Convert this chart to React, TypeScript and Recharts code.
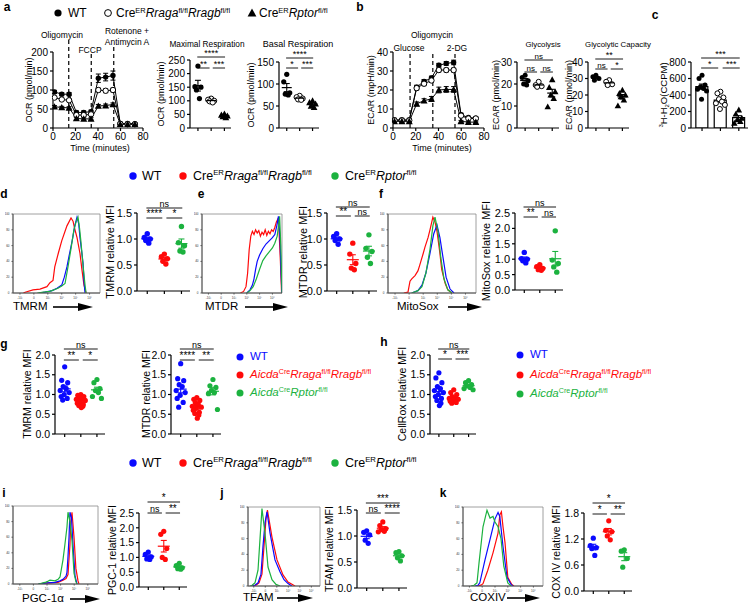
import React from 'react';
import {
  ComposedChart, LineChart, Line, Scatter, Bar, XAxis, YAxis,
  ReferenceLine, ReferenceArea, ErrorBar,
} from 'recharts';

const FONT = 'Arial, "Liberation Sans", Helvetica, sans-serif';
const BLUE = '#0a0aff';
const RED = '#ff0a0a';
const GREEN = '#1cb23f';
const BLACK = '#000000';

// ---------- a / b : Seahorse time courses ----------
const SEAHORSE_TIME = [1.3, 7.8, 14.3, 20.8, 27.3, 33.8, 40.3, 46.8, 53.3, 59.8, 66.3, 72.8];
const TIME_TICKS = [0, 20, 40, 60, 80];
const OCR_WT = [95, 89, 89, 41, 41, 43, 131, 134, 138, 12, 12, 11];
const OCR_WT_SEM = [4, 4, 4, 4, 4, 4, 11, 10, 12, 3, 3, 3];
const OCR_RR = [80, 75, 73, 34, 34, 36, 100, 98, 100, 11, 10, 10];
const OCR_RR_SEM = [3, 3, 3, 3, 3, 3, 5, 5, 5, 2, 2, 2];
const OCR_RP = [56, 54, 53, 25, 24, 24, 58, 59, 62, 10, 10, 10];
const OCR_RP_SEM = [3, 3, 3, 3, 3, 3, 4, 4, 4, 2, 2, 2];
const OCR_TICKS = [0, 50, 100, 150, 200];
const OCR_INJECTIONS = [14, 34, 54];

const ECAR_WT = [4.3, 4.3, 4.3, 21.5, 24.5, 26.3, 33, 34, 34.5, 7, 5.5, 5.2];
const ECAR_WT_SEM = [0.8, 0.8, 0.8, 1, 1, 1, 1, 1, 1.2, 0.8, 0.6, 0.6];
const ECAR_RR = [4, 4, 4, 21, 23.3, 25, 30.5, 30.5, 30.5, 6.5, 5, 5];
const ECAR_RR_SEM = [0.6, 0.6, 0.6, 1, 1, 1, 1, 1, 1, 0.6, 0.5, 0.5];
const ECAR_RP = [3.5, 3.5, 3.5, 12.7, 14.4, 15.3, 20, 20.3, 20.3, 3.5, 3.1, 3.1];
const ECAR_RP_SEM = [0.5, 0.5, 0.5, 1, 1, 1.3, 1.5, 1.5, 1.5, 0.5, 0.5, 0.5];
const ECAR_TICKS = [0, 10, 20, 30, 40];
const ECAR_INJECTIONS = [15, 35, 54.5];

// ---------- a / b / c dot plots ----------
const MAXRESP_WT = [228, 152, 150, 140, 108];
const MAXRESP_RR = [108, 104, 100, 98, 94];
const MAXRESP_RP = [52, 48, 45, 42, 38];
const BASAL_WT = [122, 105, 80, 77, 75];
const BASAL_RR = [73, 70, 67, 65, 64];
const BASAL_RP = [62, 58, 55, 50, 47];
const GLYCO_WT = [24, 23, 21.5, 20, 19.5];
const GLYCO_RR = [21, 19.5, 19, 18.7];
const GLYCO_RP = [22, 18.5, 16.5, 15, 13.5, 9.7];
const GCAP_WT = [32, 31, 30, 29];
const GCAP_RR = [29, 28, 26.5, 26];
const GCAP_RP = [23, 21, 20, 19, 17, 13.5];
const H2O_WT = [640, 600, 520, 500, 480, 470, 450, 350];
const H2O_RR = [440, 420, 370, 350, 320, 300, 280, 230];
const H2O_RP = [220, 170, 120, 100, 80, 60];

// ---------- d / e / f ----------
const TMRM_WT = [1.1, 1.03, 1.0, 0.97, 0.92];
const TMRM_RR = [0.71, 0.66, 0.62, 0.57, 0.52];
const TMRM_RP = [1.24, 0.93, 0.87, 0.77, 0.75];
const MTDR_WT = [1.1, 1.05, 1.0, 0.97, 0.9];
const MTDR_RR = [0.92, 0.71, 0.53, 0.44, 0.41];
const MTDR_RP = [1.08, 0.82, 0.76, 0.65, 0.53];
const MITOSOX_WT = [1.22, 1.02, 1.0, 0.95, 0.88];
const MITOSOX_RR = [0.82, 0.76, 0.7, 0.66, 0.64];
const MITOSOX_RP = [1.92, 0.97, 0.86, 0.75, 0.58];

// ---------- g / h ----------
const G_TMRM_WT = [1.7, 1.36, 1.3, 1.2, 1.15, 1.1, 1.05, 1.0, 0.95, 0.9, 0.86];
const G_TMRM_RR = [1.0, 0.98, 0.95, 0.92, 0.9, 0.88, 0.85, 0.82, 0.78, 0.75, 0.72, 0.7, 0.67];
const G_TMRM_RP = [1.38, 1.3, 1.15, 1.1, 1.05, 0.95, 0.9];
const G_MTDR_WT = [1.78, 1.4, 1.35, 1.25, 1.2, 1.1, 1.05, 0.98, 0.9, 0.8, 0.68];
const G_MTDR_RR = [0.92, 0.88, 0.85, 0.8, 0.75, 0.7, 0.68, 0.65, 0.6, 0.55, 0.52, 0.48, 0.4];
const G_MTDR_RP = [1.38, 1.22, 1.18, 1.1, 1.05, 1.02, 0.62];
const CELLROX_WT = [1.55, 1.42, 1.3, 1.2, 1.15, 1.1, 1.05, 1.0, 0.95, 0.9, 0.85, 0.78, 0.72];
const CELLROX_RR = [1.12, 1.05, 1.0, 0.95, 0.92, 0.9, 0.88, 0.85, 0.83, 0.8, 0.78];
const CELLROX_RP = [1.35, 1.3, 1.25, 1.22, 1.18, 1.15, 1.12];

// ---------- i / j / k ----------
const PGC_WT = [1.18, 1.1, 1.02, 0.95, 0.93];
const PGC_RR = [1.88, 1.78, 1.3, 1.0, 0.93];
const PGC_RP = [0.8, 0.72, 0.65, 0.62, 0.6];
const TFAM_WT = [1.1, 1.07, 1.02, 0.92, 0.86];
const TFAM_RR = [1.27, 1.2, 1.14, 1.12, 1.09, 1.08];
const TFAM_RP = [0.7, 0.68, 0.62, 0.58, 0.52];
const COX_WT = [1.22, 1.05, 1.0, 0.98, 0.82];
const COX_RR = [1.62, 1.4, 1.37, 1.27, 1.18];
const COX_RP = [0.95, 0.92, 0.75, 0.55];

// ---------- significance labels (overall, left pair, right pair) ----------
const SIG_MAXRESP = ['****', '**', '***'];
const SIG_BASAL = ['****', '*', '***'];
const SIG_GLYCO = ['ns', 'ns', 'ns'];
const SIG_GCAP = ['**', 'ns', '*'];
const SIG_H2O = ['***', '*', '***'];
const SIG_TMRM = ['ns', '****', '*'];
const SIG_MTDR = ['ns', '**', 'ns'];
const SIG_MITOSOX = ['ns', '**', 'ns'];
const SIG_G_TMRM = ['ns', '**', '*'];
const SIG_G_MTDR = ['ns', '****', '**'];
const SIG_CELLROX = ['ns', '*', '***'];
const SIG_PGC = ['*', 'ns', '**'];
const SIG_TFAM = ['***', 'ns', '****'];
const SIG_COX = ['*', '*', '**'];

// ---------- flow histograms: [channel %, % of max] ----------
const H_TMRM_RED = [[12, 0], [14, 1], [23, 4], [31, 5], [39, 8], [42.5, 13], [46, 16], [48, 33], [52, 50], [56, 66], [62, 85], [66.7, 95], [69, 91], [71, 81], [73.6, 70], [77, 50], [79.3, 29], [81.6, 10], [84, 0]];
const H_TMRM_BLUE = [[30, 0], [37, 1], [45, 3], [50.6, 6], [56, 10], [59, 20], [62, 33], [65, 50], [68, 66], [71, 85], [73.6, 96], [75.5, 88], [77, 70], [79, 52], [80.5, 38], [81.6, 15], [82.8, 0]];
const H_TMRM_GREEN = [[28, 0], [35, 1], [42.5, 2], [51.7, 6], [56, 9], [59.8, 12], [63.2, 33], [66.5, 55], [70, 80], [72.5, 90], [74.7, 96], [76.5, 82], [78, 66], [80.5, 35], [82.8, 10], [84, 0]];
const H_MTDR_RED = [[48, 0], [52, 2], [55, 8], [57, 25], [59, 55], [61, 72], [63, 78], [65, 74], [67, 80], [69, 76], [71, 79], [73, 72], [75, 77], [77, 74], [79, 80], [81, 73], [83, 78], [85, 75], [87, 80], [89, 78], [91, 83], [93, 90], [94.5, 93], [96, 85], [98, 40], [99.5, 0]];
const H_MTDR_BLUE = [[56, 0], [60, 4], [63, 10], [65, 18], [67, 30], [69, 40], [72, 48], [76, 56], [80, 62], [84, 66], [88, 70], [91, 74], [93.5, 85], [95.5, 97], [97.5, 70], [99, 20], [100, 0]];
const H_MTDR_GREEN = [[56, 0], [60, 3], [64, 8], [68, 18], [72, 30], [76, 41], [80, 47], [84, 52], [88, 57], [91, 63], [94, 72], [96, 88], [97, 97], [98.5, 60], [100, 0]];
const H_MITO_RED = [[18, 0], [22.7, 1], [25, 15], [27, 18], [30.7, 22], [34, 28], [36, 35], [40, 50], [42, 58], [45.5, 70], [47.7, 80], [51, 96], [53.4, 90], [55.7, 78], [59, 50], [61, 30], [65, 12], [68, 4], [72.7, 0]];
const H_MITO_BLUE = [[27, 0], [34, 3], [38.6, 10], [43, 25], [47.7, 50], [52, 75], [55.7, 86], [59, 70], [62.5, 45], [66, 20], [70.5, 5], [75, 0]];
const H_MITO_GREEN = [[27, 0], [34, 3], [38.6, 8], [43, 25], [47.7, 55], [51, 85], [53.4, 96], [56.8, 78], [60, 45], [63.6, 18], [68, 4], [72.7, 0]];
const H_PGC_GREEN = [[30, 0], [37.6, 2], [40, 3], [43.5, 5], [49.4, 4], [53, 6], [55.3, 9], [58.8, 31], [61, 50], [63.5, 73], [64.7, 92], [67, 80], [69.4, 56], [71.8, 14], [74, 3], [75.3, 0]];
const H_PGC_BLUE = [[30, 0], [37.6, 1], [49.4, 2], [55.3, 4], [58.8, 6], [62.4, 10], [63.5, 15], [64.7, 35], [65.9, 60], [67, 92], [68.8, 85], [70.6, 50], [73, 10], [75.3, 0]];
const H_PGC_RED = [[30, 0], [37.6, 1], [53, 2], [58.8, 5], [62.4, 7], [64.7, 12], [67, 50], [68, 80], [69.4, 92], [71.8, 60], [74, 20], [76.5, 4], [77.6, 0]];
const H_TFAM_GREEN = [[3, 0], [5.6, 1], [9.7, 4], [13.9, 20], [16.7, 60], [19.4, 98], [23.6, 67], [27.8, 24], [33.3, 8], [38.9, 2], [44.4, 0]];
const H_TFAM_BLUE = [[5, 0], [9.7, 1], [13.9, 4], [18, 15], [20.8, 50], [23.6, 80], [26.4, 94], [30.6, 67], [37.5, 33], [44.4, 18], [50, 8], [55.6, 3], [61, 0]];
const H_TFAM_RED = [[5, 0], [11, 1], [15.3, 4], [19.4, 15], [22.2, 50], [25, 85], [27, 96], [33.3, 62], [40.3, 33], [48.6, 14], [55.6, 5], [65.3, 0]];
const H_COX_GREEN = [[10, 0], [13.8, 1], [17.5, 4], [20, 29], [25, 75], [30, 96], [33.8, 86], [37.5, 88], [40, 81], [43.8, 75], [47.5, 60], [51, 25], [56, 4], [60, 0]];
const H_COX_BLUE = [[15, 0], [18.8, 1], [21, 4], [27.5, 33], [33.8, 59], [40, 85], [43.8, 93], [46, 88], [50, 50], [55, 11], [60, 2], [62.5, 0]];
const H_COX_RED = [[18, 0], [22.5, 1], [25, 3], [31, 20], [37.5, 42], [43.8, 67], [46, 90], [48, 94], [50, 75], [52.5, 55], [56, 11], [61, 2], [63.8, 0]];
const HIST_X_TICKS = [8, 24, 40, 56, 72, 88];
const HIST_X_LABELS = ['-10³', '0', '10³', '10⁴', '10⁵', '10⁶'];
const HIST_Y_TICKS = [0, 20, 40, 60, 80, 100];

// ---------- helpers ----------
const mean = (a: number[]) => a.reduce((s, v) => s + v, 0) / a.length;
const sem = (a: number[]) => {
  const m = mean(a);
  const sd = Math.sqrt(a.reduce((s, v) => s + (v - m) * (v - m), 0) / (a.length - 1));
  return sd / Math.sqrt(a.length);
};
const JIT = [0, -3, 3, -1.5, 1.5, -4.5, 4.5, -0.5, -3.5, 2.5, -2, 2, 0.5];

const Marker = ({ cx, cy, marker, color, r }: any) => {
  if (cx == null || cy == null) return null;
  if (marker === 'open') return <circle cx={cx} cy={cy} r={r} fill="#fff" stroke={color} strokeWidth={1} />;
  if (marker === 'tri') {
    const s = r * 1.3;
    return <polygon points={`${cx},${cy - s} ${cx - s},${cy + s * 0.8} ${cx + s},${cy + s * 0.8}`} fill={color} />;
  }
  return <circle cx={cx} cy={cy} r={r} fill={color} />;
};

const Txt = ({ x, y, size = 9, anchor = 'start', bold = false, color = '#000', rot = false, children }: any) => (
  <div
    style={{
      position: 'absolute', left: x, top: y, fontSize: size, lineHeight: 1, whiteSpace: 'nowrap',
      fontWeight: bold ? 700 : 400, color, fontFamily: FONT,
      transform: rot
        ? 'translate(-50%, -50%) rotate(-90deg)'
        : `translate(${anchor === 'middle' ? '-50%' : anchor === 'end' ? '-100%' : '0'}, -50%)`,
    }}
  >
    {children}
  </div>
);

const Sup = ({ children }: any) => (
  <span style={{ fontSize: '0.62em', position: 'relative', top: '-0.6em' }}>{children}</span>
);
const Sub = ({ children }: any) => (
  <span style={{ fontSize: '0.62em', position: 'relative', top: '0.3em' }}>{children}</span>
);

const LegendMark = ({ x, y, marker, color, r }: any) => (
  <svg style={{ position: 'absolute', left: x - 8, top: y - 8 }} width={16} height={16}>
    <Marker cx={8} cy={8} marker={marker} color={color} r={r} />
  </svg>
);

const Arrow = ({ x1, x2, y }: any) => {
  const L = x2 - x1;
  return (
    <svg style={{ position: 'absolute', left: x1, top: y - 5 }} width={L} height={10}>
      <line x1={0} y1={5} x2={L - 12} y2={5} stroke="#000" strokeWidth={1.6} />
      <polygon points={`${L - 15},1 ${L},5 ${L - 15},9`} fill="#000" />
    </svg>
  );
};

// ---------- time course ----------
const TimeCourse = ({ left, top, w, h, yMax, yTicks, series, injections, dashOff }: any) => {
  const YW = 28, MT = 16, MR = 8, XH = 17;
  const rows = SEAHORSE_TIME.map((t, i) => {
    const o: any = { t };
    series.forEach((s: any, si: number) => { o['v' + si] = s.values[i]; o['e' + si] = s.err[i]; });
    return o;
  });
  return (
    <div style={{ position: 'absolute', left: left - YW, top: top - MT }}>
      <LineChart width={YW + w + MR} height={MT + h + XH} data={rows} margin={{ top: MT, right: MR, left: 0, bottom: 0 }}>
        <XAxis type="number" dataKey="t" domain={[0, 80]} ticks={TIME_TICKS} interval={0} height={XH} tickSize={3}
          stroke="#000" strokeWidth={1.2} tick={{ fontSize: 10, fill: '#000', fontFamily: FONT }} allowDataOverflow />
        <YAxis type="number" domain={[0, yMax]} ticks={yTicks} interval={0} width={YW} tickSize={3}
          stroke="#000" strokeWidth={1.2} tick={{ fontSize: 10, fill: '#000', fontFamily: FONT }} allowDataOverflow />
        {injections.map((x: number, i: number) => (
          <ReferenceLine key={'inj' + i} ifOverflow="visible" stroke="#000" strokeWidth={1.2} strokeDasharray="4 3"
            segment={[{ x, y: 0 }, { x, y: yMax - (dashOff[i] / h) * yMax }]} />
        ))}
        {series.map((s: any, si: number) => (
          <Line key={'l' + si} dataKey={'v' + si} stroke="#000" strokeWidth={1} isAnimationActive={false}
            dot={(p: any) => <Marker key={'d' + si + '-' + p.index} cx={p.cx} cy={p.cy} marker={s.marker} color="#000" r={2.7} />}>
            <ErrorBar dataKey={'e' + si} width={2.5} stroke="#000" strokeWidth={1} direction="y" />
          </Line>
        ))}
      </LineChart>
    </div>
  );
};

// ---------- dot plot ----------
const SPANS = [[0.95, 3.05], [0.95, 1.88], [2.12, 3.05]];
const DotPlot = ({ left, top, w, h, yMax, yTicks, dec, groups, sig, sigOff, bars = false, r = 2.6, meanHW = 6, fs = 10.5, sigFs = [9, 10] }: any) => {
  const YW = 30, MT = 26, MR = 2, XH = 6;
  const stats = groups.map((g: any, i: number) => ({ x: i + 1, y: mean(g.values), sem: sem(g.values) }));
  const toY = (off: number) => yMax - (off / h) * yMax;
  return (
    <div style={{ position: 'absolute', left: left - YW, top: top - MT }}>
      <ComposedChart width={YW + w + MR} height={MT + h + XH} data={bars ? stats : undefined}
        margin={{ top: MT, right: MR, left: 0, bottom: 0 }}>
        <XAxis type="number" dataKey="x" domain={[0.4, 3.5]} ticks={[1, 2, 3]} tickFormatter={() => ''} interval={0}
          height={XH} tickSize={3} stroke="#000" strokeWidth={1.2} allowDataOverflow />
        <YAxis type="number" dataKey="y" domain={[0, yMax]} ticks={yTicks} interval={0} width={YW} tickSize={3}
          tickFormatter={(v: number) => v.toFixed(dec)} stroke="#000" strokeWidth={1.2}
          tick={{ fontSize: fs, fill: '#000', fontFamily: FONT }} allowDataOverflow />
        {bars && (
          <Bar dataKey="y" barSize={12} fill="#fff" stroke="#000" strokeWidth={1.2} isAnimationActive={false}>
            <ErrorBar dataKey="sem" width={3} stroke="#000" strokeWidth={1} direction="y" />
          </Bar>
        )}
        {groups.map((g: any, gi: number) => (
          <Scatter key={'p' + gi} isAnimationActive={false}
            data={g.values.map((v: number, k: number) => ({ x: gi + 1, y: v, k }))}
            shape={(p: any) => (
              <Marker cx={p.cx + JIT[p.payload.k % JIT.length]} cy={p.cy} marker={g.marker} color={g.color} r={r} />
            )} />
        ))}
        {!bars && groups.map((g: any, gi: number) => (
          <Scatter key={'m' + gi} isAnimationActive={false} data={[stats[gi]]}
            shape={(p: any) => (
              <line x1={p.cx - meanHW} x2={p.cx + meanHW} y1={p.cy} y2={p.cy} stroke={g.color} strokeWidth={1.2} />
            )}>
            <ErrorBar dataKey="sem" width={3} stroke={g.color} strokeWidth={1.1} direction="y" />
          </Scatter>
        ))}
        {sig.map((s: string, i: number) => {
          const yv = toY(i === 0 ? sigOff[0] : sigOff[1]);
          const [a, b] = SPANS[i];
          return (
            <ReferenceLine key={'s' + i} ifOverflow="visible" stroke="#000" strokeWidth={0.9}
              segment={[{ x: a, y: yv }, { x: b, y: yv }]}
              label={{ value: s, position: 'top', offset: 1, fontSize: s === 'ns' ? sigFs[0] : sigFs[1], fill: '#000', fontFamily: FONT }} />
          );
        })}
      </ComposedChart>
    </div>
  );
};

// ---------- histogram ----------
const Histo = ({ left, top, w, h, curves }: any) => {
  const YW = 8, MT = 2, MR = 2, XH = 7;
  return (
    <div style={{ position: 'absolute', left: left - YW, top: top - MT }}>
      <LineChart width={YW + w + MR} height={MT + h + XH} margin={{ top: MT, right: MR, left: 0, bottom: 0 }}>
        <XAxis type="number" dataKey="x" domain={[0, 100]} ticks={HIST_X_TICKS} interval={0}
          tickFormatter={(v: number, i: number) => HIST_X_LABELS[i]} height={XH} tickSize={1.5} stroke="#555"
          tick={{ fontSize: 3, fill: '#333' }} allowDataOverflow />
        <YAxis type="number" domain={[0, 100]} ticks={HIST_Y_TICKS} interval={0} width={YW} tickSize={1.5} stroke="#555"
          tick={{ fontSize: 3, fill: '#333' }} allowDataOverflow />
        <ReferenceArea x1={0} x2={100} y1={0} y2={100} fill="none" stroke="#888" strokeWidth={0.8} ifOverflow="visible" />
        {curves.map((c: any, i: number) => (
          <Line key={'h' + i} data={c.pts.map(([x, y]: number[]) => ({ x, y }))} dataKey="y" stroke={c.color}
            strokeWidth={1.2} dot={false} isAnimationActive={false} />
        ))}
      </LineChart>
    </div>
  );
};

const blk = (a: number[], b: number[], c: number[]) => [
  { values: a, color: BLACK, marker: 'dot' },
  { values: b, color: BLACK, marker: 'open' },
  { values: c, color: BLACK, marker: 'tri' },
];
const col = (a: number[], b: number[], c: number[]) => [
  { values: a, color: BLUE, marker: 'dot' },
  { values: b, color: RED, marker: 'dot' },
  { values: c, color: GREEN, marker: 'dot' },
];
const hc = (r: number[][], b: number[][], g: number[][]) => [
  { pts: r, color: RED }, { pts: b, color: BLUE }, { pts: g, color: GREEN },
];

const CreRr = () => (<>Cre<Sup>ER</Sup><i>Rraga</i><Sup>fl/fl</Sup><i>Rragb</i><Sup>fl/fl</Sup></>);
const CreRp = () => (<>Cre<Sup>ER</Sup><i>Rptor</i><Sup>fl/fl</Sup></>);
const AicRr = () => (<><i>Aicda</i><Sup>Cre</Sup><i>Rraga</i><Sup>fl/fl</Sup><i>Rragb</i><Sup>fl/fl</Sup></>);
const AicRp = () => (<><i>Aicda</i><Sup>Cre</Sup><i>Rptor</i><Sup>fl/fl</Sup></>);

const ColorLegend = ({ y }: any) => (
  <>
    <LegendMark x={133} y={y} marker="dot" color={BLUE} r={3.7} />
    <Txt x={142} y={y} size={12.5}>WT</Txt>
    <LegendMark x={183} y={y} marker="dot" color={RED} r={3.7} />
    <Txt x={193} y={y} size={12.5}><CreRr /></Txt>
    <LegendMark x={335} y={y} marker="dot" color={GREEN} r={3.7} />
    <Txt x={345} y={y} size={12.5}><CreRp /></Txt>
  </>
);

const AicdaLegend = ({ x, ys }: any) => (
  <>
    <LegendMark x={x} y={ys[0]} marker="dot" color={BLUE} r={3.5} />
    <Txt x={x + 10} y={ys[0]} size={11.5} color={BLUE}>WT</Txt>
    <LegendMark x={x} y={ys[1]} marker="dot" color={RED} r={3.5} />
    <Txt x={x + 10} y={ys[1]} size={11.5} color={RED}><AicRr /></Txt>
    <LegendMark x={x} y={ys[2]} marker="dot" color={GREEN} r={3.5} />
    <Txt x={x + 10} y={ys[2]} size={11.5} color={GREEN}><AicRp /></Txt>
  </>
);

export default function App() {
  const ocrSeries = [
    { values: OCR_WT, err: OCR_WT_SEM, marker: 'dot' },
    { values: OCR_RR, err: OCR_RR_SEM, marker: 'open' },
    { values: OCR_RP, err: OCR_RP_SEM, marker: 'tri' },
  ];
  const ecarSeries = [
    { values: ECAR_WT, err: ECAR_WT_SEM, marker: 'dot' },
    { values: ECAR_RR, err: ECAR_RR_SEM, marker: 'open' },
    { values: ECAR_RP, err: ECAR_RP_SEM, marker: 'tri' },
  ];
  const mfi15 = [0, 0.5, 1.0, 1.5];
  const mfi20 = [0, 0.5, 1.0, 1.5, 2.0];
  const mfi25 = [0, 0.5, 1.0, 1.5, 2.0, 2.5];
  return (
    <div style={{ position: 'absolute', left: 0, top: 0, width: 750, height: 605, background: '#fff', fontFamily: FONT, overflow: 'hidden' }}>
      {/* ---------- row 1 ---------- */}
      <Txt x={7} y={7} size={12} bold anchor="middle">a</Txt>
      <Txt x={360} y={7} size={12} bold anchor="middle">b</Txt>
      <Txt x={655} y={15} size={12} bold anchor="middle">c</Txt>

      <LegendMark x={58} y={13} marker="dot" color={BLACK} r={3.6} />
      <Txt x={68} y={13} size={12}>WT</Txt>
      <LegendMark x={108} y={13} marker="open" color={BLACK} r={3.4} />
      <Txt x={116} y={13} size={12}><CreRr /></Txt>
      <LegendMark x={252} y={13} marker="tri" color={BLACK} r={3.4} />
      <Txt x={259} y={13} size={12}><CreRp /></Txt>

      <TimeCourse left={53} top={52} w={90} h={76} yMax={200} yTicks={OCR_TICKS} series={ocrSeries}
        injections={OCR_INJECTIONS} dashOff={[-12, 1, -5]} />
      <Txt x={29} y={90} size={9} rot>OCR (pmol/min)</Txt>
      <Txt x={100} y={148} size={9} anchor="middle">Time (minutes)</Txt>
      <Txt x={62} y={35} size={8.5} anchor="middle">Oligomycin</Txt>
      <Txt x={90} y={50} size={8.5} anchor="middle">FCCP</Txt>
      <Txt x={127} y={31} size={8.5} anchor="middle">Rotenone +</Txt>
      <Txt x={127} y={42} size={8.5} anchor="middle">Antimycin A</Txt>

      <DotPlot left={190} top={60} w={41} h={68} yMax={250} yTicks={[0, 50, 100, 150, 200, 250]} dec={0}
        groups={blk(MAXRESP_WT, MAXRESP_RR, MAXRESP_RP)} sig={SIG_MAXRESP} sigOff={[-3, 8]} r={2.6} meanHW={5}
        fs={10} sigFs={[8, 9]} />
      <Txt x={207} y={44} size={8.3} anchor="middle">Maximal Respiration</Txt>
      <Txt x={161} y={94} size={9} rot>OCR (pmol/min)</Txt>

      <DotPlot left={279} top={62} w={40} h={66} yMax={150} yTicks={[0, 50, 100, 150]} dec={0}
        groups={blk(BASAL_WT, BASAL_RR, BASAL_RP)} sig={SIG_BASAL} sigOff={[-4, 6]} r={2.6} meanHW={5}
        fs={10} sigFs={[8, 9]} />
      <Txt x={298} y={44} size={9} anchor="middle">Basal Respiration</Txt>
      <Txt x={251} y={95} size={9} rot>OCR (pmol/min)</Txt>

      <TimeCourse left={393} top={52} w={91} h={76} yMax={40} yTicks={ECAR_TICKS} series={ecarSeries}
        injections={ECAR_INJECTIONS} dashOff={[0, 0, 0]} />
      <Txt x={371} y={90} size={9} rot>ECAR (mpH/min)</Txt>
      <Txt x={442} y={148} size={9} anchor="middle">Time (minutes)</Txt>
      <Txt x={432} y={35} size={8.5} anchor="middle">Oligomycin</Txt>
      <Txt x={409} y={48} size={8.5} anchor="middle">Glucose</Txt>
      <Txt x={457} y={48} size={8.5} anchor="middle">2-DG</Txt>

      <DotPlot left={517} top={62} w={42} h={66} yMax={30} yTicks={[0, 10, 20, 30]} dec={0}
        groups={blk(GLYCO_WT, GLYCO_RR, GLYCO_RP)} sig={SIG_GLYCO} sigOff={[-2, 10]} r={2.5} meanHW={5}
        fs={10} sigFs={[8, 9]} />
      <Txt x={543} y={45} size={7.8} anchor="middle">Glycolysis</Txt>
      <Txt x={496} y={95} size={9} rot>ECAR (pmol/min)</Txt>

      <DotPlot left={588} top={62} w={41} h={66} yMax={40} yTicks={[0, 10, 20, 30, 40]} dec={0}
        groups={blk(GCAP_WT, GCAP_RR, GCAP_RP)} sig={SIG_GCAP} sigOff={[-3, 7]} r={2.5} meanHW={5}
        fs={10} sigFs={[8, 9]} />
      <Txt x={618} y={45} size={7.8} anchor="middle">Glycolytic Capacity</Txt>
      <Txt x={569} y={95} size={9} rot>ECAR (pmol/min)</Txt>

      <DotPlot left={691} top={62} w={57} h={66} yMax={800} yTicks={[0, 200, 400, 600, 800]} dec={0}
        groups={blk(H2O_WT, H2O_RR, H2O_RP)} sig={SIG_H2O} sigOff={[-4, 6]} bars r={2.5}
        fs={10} sigFs={[8, 9]} />
      <Txt x={664} y={95} size={9.5} rot><Sup>3</Sup>H-H<Sub>2</Sub>O(CCPM)</Txt>

      {/* ---------- row 2: d e f ---------- */}
      <ColorLegend y={176} />
      <Txt x={4} y={194} size={12} bold anchor="middle">d</Txt>
      <Txt x={201} y={194} size={12} bold anchor="middle">e</Txt>
      <Txt x={381} y={194} size={12} bold anchor="middle">f</Txt>

      <Histo left={13} top={214} w={87} h={79} curves={hc(H_TMRM_RED, H_TMRM_BLUE, H_TMRM_GREEN)} />
      <Txt x={13} y={307} size={11.5}>TMRM</Txt>
      <Arrow x1={53} x2={93} y={307} />
      <DotPlot left={137} top={213} w={53} h={78} yMax={1.5} yTicks={mfi15} dec={1}
        groups={col(TMRM_WT, TMRM_RR, TMRM_RP)} sig={SIG_TMRM} sigOff={[-5, 5]} fs={11} r={2.7} />
      <Txt x={110} y={252} size={11} rot>TMRM relative MFI</Txt>

      <Histo left={202} top={214} w={80} h={79} curves={hc(H_MTDR_RED, H_MTDR_BLUE, H_MTDR_GREEN)} />
      <Txt x={205} y={307} size={11.5}>MTDR</Txt>
      <Arrow x1={245} x2={288} y={307} />
      <DotPlot left={327} top={213} w={50} h={78} yMax={1.5} yTicks={mfi15} dec={1}
        groups={col(MTDR_WT, MTDR_RR, MTDR_RP)} sig={SIG_MTDR} sigOff={[-6, 3]} fs={11} r={2.7} />
      <Txt x={303} y={252} size={11} rot>MTDR relative MFI</Txt>

      <Histo left={388} top={214} w={88} h={79} curves={hc(H_MITO_RED, H_MITO_BLUE, H_MITO_GREEN)} />
      <Txt x={397} y={307} size={11.5}>MitoSox</Txt>
      <Arrow x1={448} x2={482} y={307} />
      <DotPlot left={515} top={213} w={48} h={77} yMax={2.5} yTicks={mfi25} dec={1}
        groups={col(MITOSOX_WT, MITOSOX_RR, MITOSOX_RP)} sig={SIG_MITOSOX} sigOff={[-6, 4]} fs={11} r={2.7} />
      <Txt x={486} y={251} size={11} rot>MitoSox relative MFI</Txt>

      {/* ---------- row 3: g h ---------- */}
      <Txt x={4} y={344} size={12} bold anchor="middle">g</Txt>
      <Txt x={384} y={342} size={12} bold anchor="middle">h</Txt>
      <DotPlot left={55} top={355} w={50} h={79} yMax={2.0} yTicks={mfi20} dec={1}
        groups={col(G_TMRM_WT, G_TMRM_RR, G_TMRM_RP)} sig={SIG_G_TMRM} sigOff={[-6, 5]} />
      <Txt x={27} y={394} size={10.5} rot>TMRM relative MFI</Txt>
      <DotPlot left={171} top={355} w={50} h={79} yMax={2.0} yTicks={mfi20} dec={1}
        groups={col(G_MTDR_WT, G_MTDR_RR, G_MTDR_RP)} sig={SIG_G_MTDR} sigOff={[-6, 5]} />
      <Txt x={146} y={394} size={10.5} rot>MTDR relative MFI</Txt>
      <AicdaLegend x={240} ys={[357, 375, 393]} />

      <DotPlot left={430} top={355} w={46} h={79} yMax={2.0} yTicks={mfi20} dec={1}
        groups={col(CELLROX_WT, CELLROX_RR, CELLROX_RP)} sig={SIG_CELLROX} sigOff={[-6, 4]} />
      <Txt x={402} y={394} size={10.5} rot>CellRox relative MFI</Txt>
      <AicdaLegend x={520} ys={[355, 375, 394]} />

      {/* ---------- row 4: i j k ---------- */}
      <ColorLegend y={463} />
      <Txt x={4} y={493} size={12} bold anchor="middle">i</Txt>
      <Txt x={222} y={493} size={12} bold anchor="middle">j</Txt>
      <Txt x={443} y={493} size={12} bold anchor="middle">k</Txt>

      <Histo left={13} top={506} w={85} h={78} curves={hc(H_PGC_RED, H_PGC_BLUE, H_PGC_GREEN)} />
      <Txt x={22} y={599} size={11.5}>PGC-1α</Txt>
      <Arrow x1={70} x2={100} y={599} />
      <DotPlot left={139} top={513} w={48} h={74} yMax={2.5} yTicks={mfi25} dec={1}
        groups={col(PGC_WT, PGC_RR, PGC_RP)} sig={SIG_PGC} sigOff={[-11, 0]} />
      <Txt x={112} y={550} size={10.5} rot>PGC-1 relative MFI</Txt>

      <Histo left={248} top={507} w={72} h={79} curves={hc(H_TFAM_RED, H_TFAM_BLUE, H_TFAM_GREEN)} />
      <Txt x={243} y={598} size={11.5}>TFAM</Txt>
      <Arrow x1={277} x2={313} y={598} />
      <DotPlot left={357} top={510} w={50} h={78} yMax={1.5} yTicks={mfi15} dec={1}
        groups={col(TFAM_WT, TFAM_RR, TFAM_RP)} sig={SIG_TFAM} sigOff={[-7, 3]} />
      <Txt x={329} y={549} size={10.5} rot>TFAM relative MFI</Txt>

      <Histo left={463} top={507} w={80} h={79} curves={hc(H_COX_RED, H_COX_BLUE, H_COX_GREEN)} />
      <Txt x={470} y={598} size={11.5}>COXIV</Txt>
      <Arrow x1={507} x2={540} y={598} />
      <DotPlot left={584} top={513} w={48} h={78} yMax={1.8} yTicks={[0, 0.6, 1.2, 1.8]} dec={1}
        groups={col(COX_WT, COX_RR, COX_RP)} sig={SIG_COX} sigOff={[-10, 1]} />
      <Txt x={556} y={552} size={10.5} rot>COX IV relative MFI</Txt>
    </div>
  );
}
